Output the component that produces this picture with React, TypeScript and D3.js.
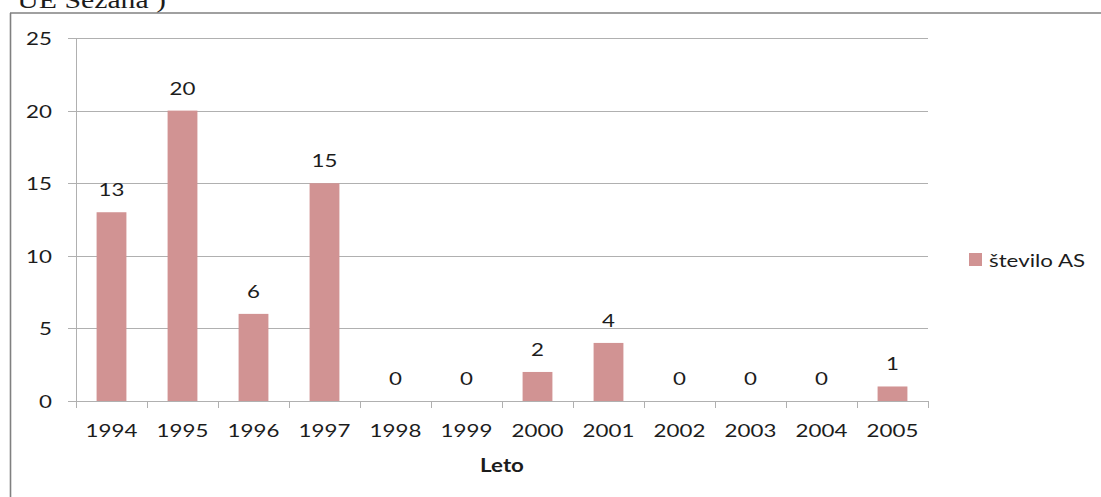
import * as d3 from "d3"
import React from "react"

const years = ["1994", "1995", "1996", "1997", "1998", "1999", "2000", "2001", "2002", "2003", "2004", "2005"]
const counts = [13, 20, 6, 15, 0, 0, 2, 4, 0, 0, 0, 1]
const yTicks = [0, 5, 10, 15, 20, 25]
const seriesName = "število AS"
const axisTitle = "Leto"
const pageTitle = "UE Sežana )"

const W = 1101
const H = 497
const SX = 1.24 // the picture is stretched sideways, so is its text
const FONT = "Lato, 'Open Sans', sans-serif"
const BAR = "#D19393"
const GRID = "#B0B0B0"
const INK = "#1C1C1C"

const x = d3.scaleBand<string>().domain(years).range([76, 928]).paddingInner(0.58).paddingOuter(0.29)
const y = d3.scaleLinear().domain([0, 25]).range([401, 38])

const Label = ({ x, y, anchor = "middle", size = 18, weight = 400, family = FONT, children }: any) => (
  <text
    transform={`translate(${x},${y}) scale(${SX},1)`}
    textAnchor={anchor}
    fontFamily={family}
    fontSize={size}
    fontWeight={weight}
    fill={INK}
  >
    {children}
  </text>
)

const App = () => {
  const step = x.step()
  const bounds = years.map((_, i) => 76 + i * step).concat([928])

  return (
    <svg width={W} height={H} style={{ position: "absolute", left: 0, top: 0, background: "#fff" }}>
      {/* page text cut off at the top */}
      <Label x={166} y={8} anchor="end" size={24} family="'Liberation Serif', 'Times New Roman', serif">
        {pageTitle}
      </Label>

      {/* chart frame */}
      <line x1={10.5} x2={10.5} y1={13} y2={H} stroke="#808080" strokeWidth={1.6} />
      <line x1={10} x2={W} y1={13} y2={13} stroke="#808080" strokeWidth={1.6} />

      {/* grid + y axis */}
      {yTicks.map(t => (
        <g key={t}>
          <line x1={68} x2={928} y1={Math.round(y(t)) + 0.5} y2={Math.round(y(t)) + 0.5} stroke={GRID} />
          <Label x={52} y={y(t) + 7} anchor="end">{t}</Label>
        </g>
      ))}
      <line x1={76.5} x2={76.5} y1={y(25)} y2={y(0)} stroke={GRID} />

      {/* x ticks */}
      {bounds.map((b, i) => (
        <line key={i} x1={Math.round(b) + 0.5} x2={Math.round(b) + 0.5} y1={401} y2={408} stroke={GRID} />
      ))}

      {/* bars */}
      {years.map((yr, i) => (
        <rect
          key={yr}
          x={x(yr)}
          y={y(counts[i])}
          width={x.bandwidth()}
          height={y(0) - y(counts[i])}
          fill={BAR}
        />
      ))}

      {/* value labels */}
      {years.map((yr, i) => (
        <Label key={yr} x={(x(yr) as number) + x.bandwidth() / 2} y={y(counts[i]) - 16}>
          {counts[i]}
        </Label>
      ))}

      {/* category labels */}
      {years.map(yr => (
        <Label key={yr} x={(x(yr) as number) + x.bandwidth() / 2} y={437}>{yr}</Label>
      ))}

      <Label x={502} y={472} weight={700}>{axisTitle}</Label>

      {/* legend */}
      <rect x={969} y={253} width={13} height={13} fill={BAR} />
      <Label x={989} y={267} anchor="start">{seriesName}</Label>
    </svg>
  )
}

export default App
